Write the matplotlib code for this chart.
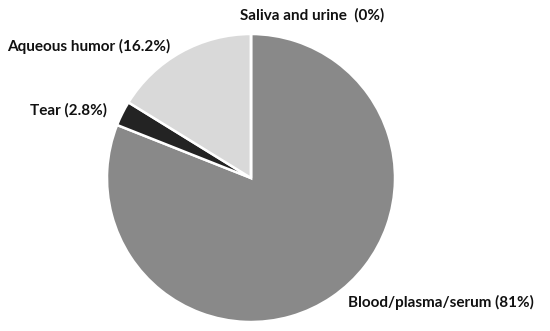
import matplotlib
matplotlib.use("Agg")
import matplotlib.pyplot as plt

categories = ["Blood/plasma/serum", "Tear", "Aqueous humor", "Saliva and urine"]
values = [81.0, 2.8, 16.2, 0.0]
labels = ["Blood/plasma/serum (81%)", "Tear (2.8%)", "Aqueous humor (16.2%)", "Saliva and urine  (0%)"]
colors = ["#898989", "#232323", "#d9d9d9", "#ffffff"]

W, H = 550, 331
fig = plt.figure(figsize=(W / 100, H / 100), dpi=100)
cx, cy, r = 251, 178, 144
ax = fig.add_axes([(cx - r) / W, (H - cy - r) / H, 2 * r / W, 2 * r / H])
ax.pie(values, colors=colors, startangle=90, counterclock=False, radius=1,
       wedgeprops=dict(edgecolor="white", linewidth=1.8))
ax.set_xlim(-1, 1)
ax.set_ylim(-1, 1)
ax.set_aspect("equal")
ax.axis("off")

font = dict(family=["Lato", "DejaVu Sans"], fontweight="bold", fontsize=11, color="#111111")
pos = [(348, 302, "left"), (30, 110, "left"), (7, 46, "left"), (240, 15, "left")]
for lab, (x, y, ha) in zip(labels, pos):
    fig.text(x / W, 1 - y / H, lab, ha=ha, va="center", **font)

fig.savefig("out.png", dpi=100)
